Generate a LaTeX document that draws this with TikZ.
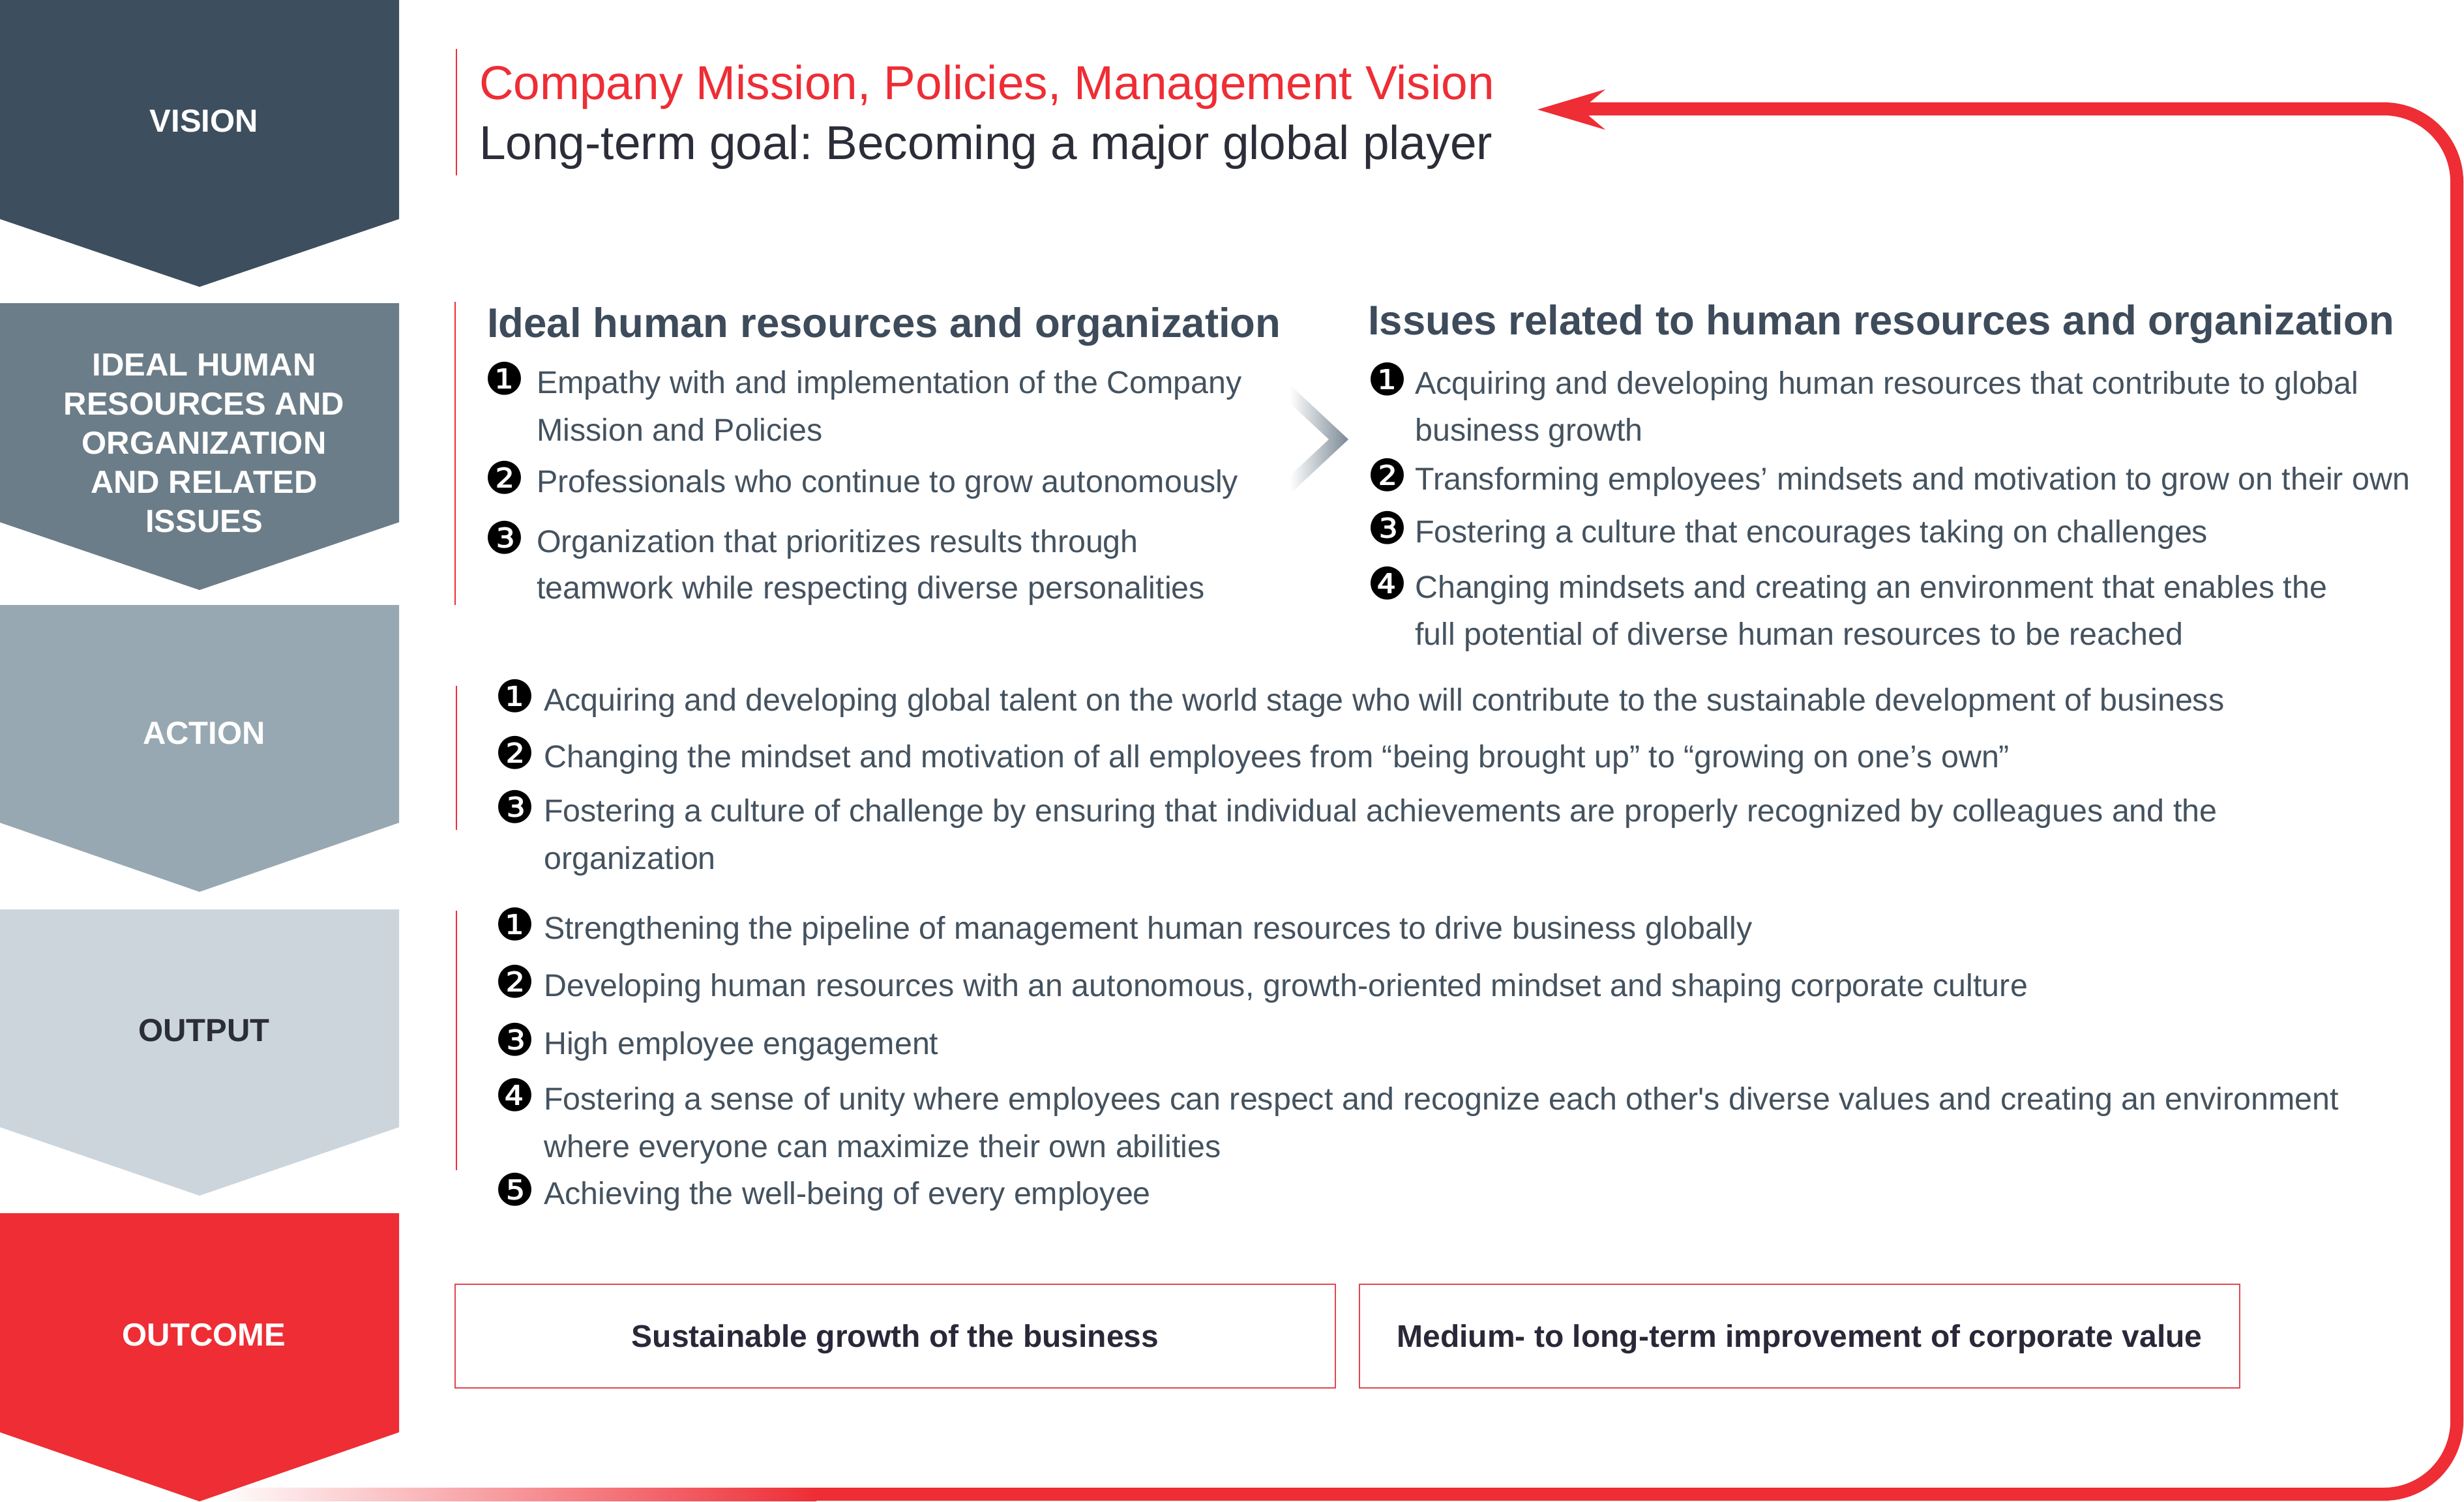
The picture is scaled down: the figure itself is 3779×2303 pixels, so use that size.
\documentclass[tikz,border=0pt]{standalone}
\usepackage{fontspec}
\setmainfont{Liberation Sans}[Ligatures=TeXOff]
\newfontfamily\numfont{DejaVu Sans}
\frenchspacing
\definecolor{cVision}{HTML}{3D4E5E}
\definecolor{cIdeal}{HTML}{6B7D88}
\definecolor{cAction}{HTML}{97A8B2}
\definecolor{cOutput}{HTML}{CCD5DC}
\definecolor{cRed}{HTML}{EE2D35}
\definecolor{cBody}{HTML}{44525F}
\definecolor{cHead}{HTML}{3D4B5B}
\definecolor{cDark}{HTML}{2B2E38}
\definecolor{cBoxText}{HTML}{2A2838}
\definecolor{cBoxLine}{HTML}{E0474F}
\definecolor{cChev}{HTML}{7B8995}
\begin{document}
\begin{tikzpicture}[x=1pt,y=-1pt,
  lab/.style={inner sep=0pt, text=white, font=\bfseries\fontsize{49}{60}\selectfont, align=center},
  body/.style={inner sep=0pt, anchor=base west, text=cBody, font=\fontsize{48.4}{58}\selectfont},
  head/.style={inner sep=0pt, anchor=base west, text=cHead, font=\bfseries\fontsize{63.5}{76}\selectfont},
  big/.style={inner sep=0pt, anchor=base west, font=\fontsize{73}{88}\selectfont},
  num/.style={inner sep=0pt, anchor=center, text=black, font=\numfont\fontsize{68}{68}\selectfont},
  sepline/.style={draw=cRed, line width=2pt},
  outbox/.style={draw=cBoxLine, line width=2.5pt, minimum width=1350pt, minimum height=159pt, inner sep=0pt, text=cBoxText, font=\bfseries\fontsize{48}{58}\selectfont, text depth=0pt},
  loopline/.style={draw=cRed, line width=20pt, rounded corners=112pt}
]
\useasboundingbox (0,0) rectangle (3779,2303);
\fill[white] (0,0) rectangle (3779,2303);

% feedback loop
\shade[left color=white, right color=cRed] (330,2282) rectangle (1252,2302);
\coordinate (loopstart) at (1248,2292);
\coordinate (loopend) at (2437,167);
\draw[loopline] (loopstart) -- (3768,2292) -- (3768,167) -- (loopend);
\fill[cRed] (2358,168) -- (2462,137) -- (2437,158) -- (2437,178) -- (2462,199) -- cycle;

% chevrons
\fill[cVision] (0,0) -- (612,0) -- (612,336) -- (306,440) -- (0,336) -- cycle;
\fill[cIdeal] (0,465) -- (612,465) -- (612,801) -- (306,905) -- (0,801) -- cycle;
\fill[cAction] (0,928) -- (612,928) -- (612,1262) -- (306,1368) -- (0,1262) -- cycle;
\fill[cOutput] (0,1395) -- (612,1395) -- (612,1729) -- (306,1834) -- (0,1729) -- cycle;
\fill[cRed] (0,1861) -- (612,1861) -- (612,2197) -- (306,2303) -- (0,2197) -- cycle;

\node[lab] (lvision) at (313,185.5) {VISION};
\node[lab] (lideal) at (313,680) {IDEAL HUMAN\\RESOURCES AND\\ORGANIZATION\\AND RELATED\\ISSUES};
\node[lab] (laction) at (313,1125) {ACTION};
\node[lab, text=cDark] (loutput) at (313,1581) {OUTPUT};
\node[lab] (loutcome) at (313,2048) {OUTCOME};

% separators
\draw[sepline] (700,75) -- (700,269);
\draw[sepline] (698,463) -- (698,928);
\draw[sepline] (700,1052) -- (700,1273);
\draw[sepline] (700,1397) -- (700,1795);

% vision
\node[big, text=cRed] (mission) at (735,152) {Company Mission, Policies, Management Vision};
\node[big, text=cDark] (goal) at (735,244) {Long-term goal: Becoming a major global player};

% ideal / issues
\node[head] (hideal) at (747,517) {Ideal human resources and organization};
\node[head] (hissues) at (2098,513) {Issues related to human resources and organization};
\shade[left color=white, right color=cChev] (1978,590) -- (2068,674) -- (1978,758) -- (1978,730) -- (2038,674) -- (1978,618) -- cycle;

\node[num] (n11) at (774,581) {❶};
\node[num] (n12) at (774,733) {❷};
\node[num] (n13) at (774,825) {❸};
\node[body] (il1a) at (823,603) {Empathy with and implementation of the Company};
\node[body] (il1b) at (823,676) {Mission and Policies};
\node[body] (il2) at (823,755) {Professionals who continue to grow autonomously};
\node[body] (il3a) at (823,847) {Organization that prioritizes results through};
\node[body] (il3b) at (823,918) {teamwork while respecting diverse personalities};

\node[num] (n21) at (2128,582) {❶};
\node[num] (n22) at (2128,729) {❷};
\node[num] (n23) at (2128,810) {❸};
\node[num] (n24) at (2128,895) {❹};
\node[body] (ir1a) at (2170,604) {Acquiring and developing human resources that contribute to global};
\node[body] (ir1b) at (2170,676) {business growth};
\node[body] (ir2) at (2170,751) {Transforming employees’ mindsets and motivation to grow on their own};
\node[body] (ir3) at (2170,832) {Fostering a culture that encourages taking on challenges};
\node[body] (ir4a) at (2170,917) {Changing mindsets and creating an environment that enables the};
\node[body] (ir4b) at (2170,989) {full potential of diverse human resources to be reached};

% action
\node[num] (n31) at (790,1068) {❶};
\node[num] (n32) at (790,1155) {❷};
\node[num] (n33) at (790,1238) {❸};
\node[body] (a1) at (834,1090) {Acquiring and developing global talent on the world stage who will contribute to the sustainable development of business};
\node[body] (a2) at (834,1177) {Changing the mindset and motivation of all employees from “being brought up” to “growing on one’s own”};
\node[body] (a3a) at (834,1260) {Fostering a culture of challenge by ensuring that individual achievements are properly recognized by colleagues and the};
\node[body] (a3b) at (834,1333) {organization};

% output
\node[num] (n41) at (790,1418) {❶};
\node[num] (n42) at (790,1506) {❷};
\node[num] (n43) at (790,1595) {❸};
\node[num] (n44) at (790,1680) {❹};
\node[num] (n45) at (790,1825) {❺};
\node[body] (o1) at (834,1440) {Strengthening the pipeline of management human resources to drive business globally};
\node[body] (o2) at (834,1528) {Developing human resources with an autonomous, growth-oriented mindset and shaping corporate culture};
\node[body] (o3) at (834,1617) {High employee engagement};
\node[body] (o4a) at (834,1702) {Fostering a sense of unity where employees can respect and recognize each other's diverse values and creating an environment};
\node[body] (o4b) at (834,1775) {where everyone can maximize their own abilities};
\node[body] (o5) at (834,1847) {Achieving the well-being of every employee};

% outcome
\node[outbox] (b1) at (1373,2049.5) {Sustainable growth of the business};
\node[outbox] (b2) at (2760,2049.5) {Medium- to long-term improvement of corporate value};
\end{tikzpicture}
\end{document}
